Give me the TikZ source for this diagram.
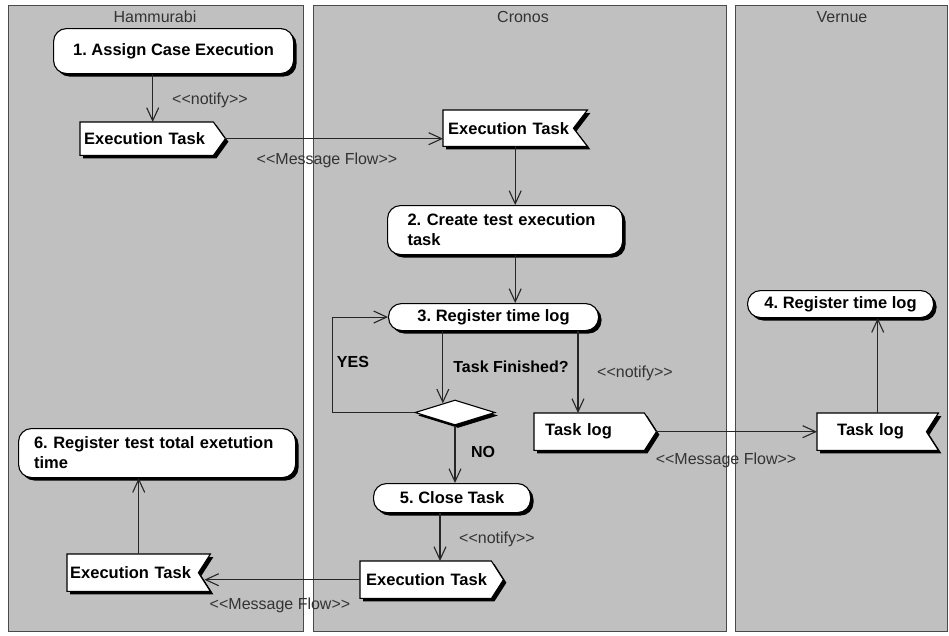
\documentclass[tikz,border=0pt]{standalone}
\usepackage{fontspec}
\setmainfont{Liberation Sans}
\newfontfamily\plainfont{Liberation Sans}
\usetikzlibrary{arrows.meta,shapes.geometric,shadows,calc}
\pgfdeclarelayer{lanes}
\pgfdeclarelayer{shapes}
\pgfsetlayers{lanes,shapes,main}
\definecolor{lanegray}{HTML}{C0C0C0}
\definecolor{laneedge}{HTML}{4A4A4A}
\definecolor{lbl}{HTML}{333333}
\frenchspacing
\newcommand\sendshape[2]{\path[sigshape] (#1.north west) -- ($(#1.north east)+(-#2,0)$) -- (#1.east) -- ($(#1.south east)+(-#2,0)$) -- (#1.south west) -- cycle;}
\newcommand\recvshape[2]{\path[sigshape] (#1.north west) -- (#1.north east) -- ($(#1.east)+(-#2,0)$) -- (#1.south east) -- (#1.south west) -- cycle;}
\begin{document}
\begin{tikzpicture}[x=1pt,y=-1pt,
  lane/.style={draw=laneedge, fill=lanegray, line width=1.2pt, anchor=north west, inner sep=0},
  title/.style={font=\plainfont\fontsize{16}{18}\selectfont, text=lbl},
  shad/.style={drop shadow={shadow xshift=3pt, shadow yshift=-3pt, opacity=1, fill=black}},
  act/.style={draw=black, fill=white, line width=1.1pt, rounded corners=13pt, anchor=north west, inner sep=0, font=\bfseries\fontsize{16.5}{20}\selectfont, shad},
  sig/.style={anchor=north west, inner sep=0, align=left, font=\bfseries\fontsize{16.5}{20}\selectfont},
  sigshape/.style={draw=black, fill=white, line width=1.1pt, shad},
  lab/.style={font=\plainfont\fontsize{16}{18}\selectfont, text=lbl},
  blab/.style={font=\bfseries\fontsize{16}{18}\selectfont},
  arr/.style={draw=black!85, line width=1.1pt, -{Straight Barb[length=13pt,width=12pt]}}]
\useasboundingbox (0,0) rectangle (949,635);
\begin{pgfonlayer}{lanes}
\fill[white] (0,0) rectangle (949,635);
\node[lane, minimum width=295pt, minimum height=626pt] (L1) at (8,5) {};
\node[lane, minimum width=413pt, minimum height=626pt] (L2) at (313,5) {};
\node[lane, minimum width=212pt, minimum height=626pt] (L3) at (735,5) {};
\end{pgfonlayer}
\node[title] (t1) at (155,17) {Hammurabi};
\node[title] (t2) at (523,17) {Cronos};
\node[title] (t3) at (842,17) {Vernue};
% activities
\node[act, minimum width=240pt, minimum height=45pt] (n1) at (53,28) {1. Assign Case Execution};
\node[act, minimum width=235pt, minimum height=49pt, text width=195pt, align=left] (n2) at (387,205) {2. Create test execution\\task};
\node[act, minimum width=210pt, minimum height=27pt] (n3) at (388,303) {3. Register time log};
\node[act, minimum width=186pt, minimum height=27pt] (n4) at (747,290) {4. Register time log};
\node[act, minimum width=157pt, minimum height=29pt] (n5) at (373,483) {5. Close Task};
\node[act, minimum width=277pt, minimum height=49pt, text width=246pt, align=left] (n6) at (18,428) {6. Register test total exetution\\time};
\node[diamond, draw=black, fill=white, line width=1.1pt, minimum width=80pt, minimum height=25pt, inner sep=0, shad] (d) at (455,412.5) {};
% signals
\node[sig, minimum width=145pt, minimum height=33pt, text width=137pt] (sH1) at (80,122) {Execution Task};
\node[sig, minimum width=144pt, minimum height=36pt, text width=134pt] (sC1) at (443,110) {Execution Task};
\node[sig, minimum width=122pt, minimum height=37pt, text width=100pt] (sC2) at (534,413) {Task log};
\node[sig, minimum width=121pt, minimum height=37pt, text width=81pt] (sV) at (817,413) {Task log};
\node[sig, minimum width=143pt, minimum height=37pt, text width=131pt] (sC3) at (360,561) {Execution Task};
\node[sig, minimum width=143pt, minimum height=37pt, text width=137pt] (sH2) at (67,554) {Execution Task};
\begin{pgfonlayer}{shapes}
\sendshape{sH1}{12}
\recvshape{sC1}{14}
\sendshape{sC2}{12}
\recvshape{sV}{12}
\sendshape{sC3}{12}
\recvshape{sH2}{12}
\end{pgfonlayer}
% connectors
\coordinate (hn) at ($(sH2.east)+(-6,0)$);
\coordinate (dtop) at ($(d.north)!0.3!(d.west)$);
\coordinate (c578) at (578,0);
\coordinate (c440) at (440,0);
\draw[arr] (n1.south -| sH1.north) -- (sH1.north);
\draw[arr] (sH1.east) -- (sH1.east -| sC1.west);
\draw[arr] (sC1.south) -- (sC1.south |- n2.north);
\draw[arr] (n2.south -| sC1.south) -- (n3.north -| sC1.south);
\draw[arr] (n3.south -| dtop) -- (dtop);
\draw[arr] (d.west) -- ++(-82,0) |- (n3.west);
\draw[arr] (d.south) -- (d.south |- n5.north);
\draw[arr] (n3.south -| c578) -- (sC2.north -| c578);
\draw[arr] (sC2.east) -- (sC2.east -| sV.west);
\draw[arr] (sV.north) -- (sV.north |- n4.south);
\draw[arr] (n5.south -| c440) -- (sC3.north -| c440);
\draw[arr] (sC3.west) -- (sC3.west -| hn);
\draw[arr] (sH2.north) -- (sH2.north |- n6.south);
% labels
\node[lab] (l1) at (210,100) {<<notify>>};
\node[lab] (l2) at (327,160) {<<Message Flow>>};
\node[blab] (l3) at (511,367) {Task Finished?};
\node[blab] (l4) at (353,362) {YES};
\node[blab] (l5) at (483,452) {NO};
\node[lab] (l6) at (635,373) {<<notify>>};
\node[lab] (l7) at (726,460) {<<Message Flow>>};
\node[lab] (l8) at (497,539) {<<notify>>};
\node[lab] (l9) at (280,605) {<<Message Flow>>};
\end{tikzpicture}
\end{document}
